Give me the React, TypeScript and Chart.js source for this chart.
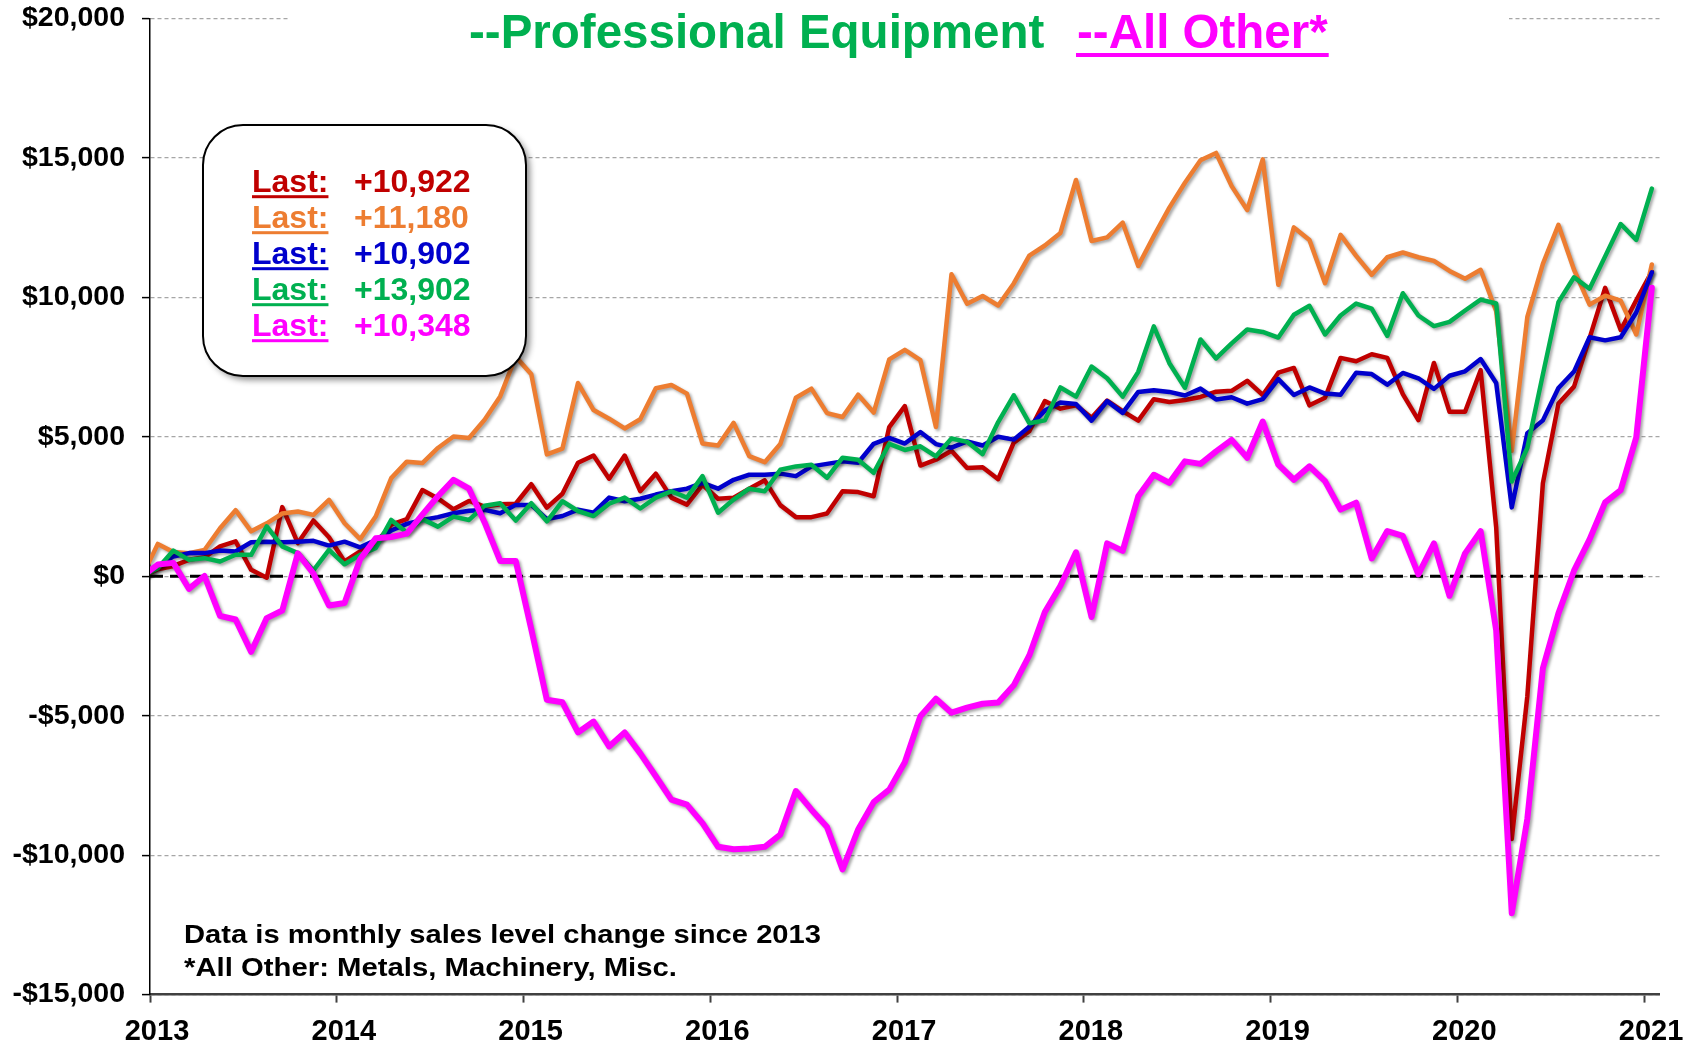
import React, { useEffect, useRef } from "react";
import { Chart, registerables } from "chart.js";

Chart.register(...registerables);

const FONT = "'Liberation Sans', Arial, Helvetica, sans-serif";

// X axis: one tick per January, from Jan 2013 to Jan 2021
const YEAR_LABELS = ["2013", "2014", "2015", "2016", "2017", "2018", "2019", "2020", "2021"];

// Y axis
const Y_MIN = -15000;
const Y_MAX = 20000;
const Y_STEP = 5000;

// Change is measured from the Dec 2012 level, which is zero for every series
const BASE_VALUE = 0;

// Monthly values, Jan 2013 .. Jan 2021 (97 months)
const RED_SERIES = [
  250, 370, 590, 680, 1070, 1250, 230, -50, 2480, 1190, 2000, 1400,
  530, 890, 1190, 1850, 2050, 3090, 2790, 2400, 2700, 2500, 2580, 2600,
  3300, 2460, 2960, 4070, 4330, 3500, 4330, 3050, 3680, 2820, 2570, 3280,
  2780, 2820, 3140, 3440, 2550, 2120, 2120, 2250, 3050, 3020, 2870, 5350,
  6100, 3970, 4180, 4500, 3880, 3910, 3480, 4790, 5200, 6280, 6010, 6130,
  5680, 6300, 5920, 5580, 6350, 6250, 6320, 6430, 6620, 6650, 7010, 6500,
  7300, 7470, 6130, 6400, 7830, 7710, 7960, 7830, 6530, 5600, 7650, 5900,
  5900, 7390, 1750, -9420, -4300, 3340, 6190, 6800, 8540, 10340, 8830, 9900,
  10922,
];

const ORANGE_SERIES = [
  1160, 870, 830, 940, 1720, 2370, 1610, 1900, 2250, 2320, 2200, 2740,
  1900, 1330, 2140, 3520, 4110, 4060, 4600, 5010, 4960, 5610, 6450, 7870,
  7240, 4370, 4580, 6930, 5960, 5650, 5300, 5630, 6740, 6860, 6550, 4760,
  4690, 5500, 4310, 4090, 4740, 6400, 6730, 5850, 5710, 6510, 5870, 7780,
  8120, 7750, 5350, 10830, 9770, 10050, 9710, 10500, 11500, 11860, 12310, 14210,
  12020, 12150, 12680, 11130, 12200, 13220, 14110, 14920, 15180, 13990, 13130, 14950,
  10450, 12510, 12060, 10510, 12240, 11490, 10810, 11440, 11610, 11440, 11310, 10950,
  10670, 10990, 9500, 4500, 9300, 11200, 12600, 10990, 9740, 10060, 9880, 8670,
  11180,
];

const BLUE_SERIES = [
  350, 710, 830, 830, 920, 890, 1220, 1240, 1220, 1240, 1270, 1100,
  1240, 1040, 1300, 1640, 1880, 2020, 2120, 2260, 2350, 2380, 2260, 2560,
  2560, 2050, 2160, 2390, 2280, 2820, 2690, 2780, 2930, 3050, 3140, 3350,
  3140, 3460, 3640, 3640, 3680, 3590, 3940, 4030, 4120, 4070, 4750, 4960,
  4760, 5170, 4740, 4610, 4835, 4690, 5000, 4900, 5360, 5940, 6230, 6180,
  5580, 6280, 5860, 6610, 6670, 6610, 6480, 6730, 6340, 6420, 6190, 6350,
  7070, 6500, 6770, 6550, 6510, 7300, 7250, 6870, 7290, 7100, 6720, 7190,
  7350, 7790, 6930, 2470, 5130, 5590, 6750, 7340, 8570, 8460, 8570, 9460,
  10902,
];

const PRO_EQUIPMENT = [
  290, 920, 590, 650, 530, 770, 770, 1790, 1070, 830, 210, 950,
  430, 770, 1010, 2020, 1570, 2050, 1780, 2140, 2020, 2530, 2620, 2000,
  2620, 1970, 2690, 2340, 2160, 2600, 2820, 2430, 2820, 3050, 2820, 3590,
  2280, 2750, 3140, 3050, 3820, 3940, 4000, 3530, 4250, 4180, 3710, 4750,
  4530, 4660, 4300, 4940, 4820, 4380, 5530, 6490, 5490, 5590, 6770, 6440,
  7520, 7100, 6440, 7330, 8960, 7640, 6760, 8490, 7810, 8350, 8850, 8760,
  8560, 9380, 9700, 8670, 9350, 9780, 9600, 8620, 10150, 9350, 8970, 9120,
  9530, 9920, 9780, 3400, 4600, 7240, 9830, 10720, 10310, 11470, 12630, 12060,
  13902,
];

const ALL_OTHER = [
  420, 480, -450, 10, -1420, -1550, -2710, -1500, -1230, 820, 100, -1050,
  -960, 610, 1360, 1410, 1530, 2210, 2870, 3460, 3140, 1930, 550, 550,
  -1900, -4430, -4520, -5600, -5210, -6100, -5600, -6350, -7170, -8010, -8190, -8850,
  -9700, -9790, -9760, -9700, -9260, -7700, -8370, -8990, -10510, -9080, -8100, -7650,
  -6670, -5020, -4390, -4890, -4710, -4570, -4530, -3910, -2840, -1280, -340, 860,
  -1460, 1180, 910, 2870, 3640, 3350, 4120, 4030, 4480, 4890, 4250, 5550,
  4000, 3460, 3940, 3410, 2390, 2640, 640, 1620, 1450, 70, 1180, -700,
  820, 1620, -1940, -12080, -8700, -3300, -1330, 200, 1320, 2650, 3090, 4980,
  10348,
];

const ZERO_LINE = [0, 0];

const LAST_LABELS = ["+10,922", "+11,180", "+10,902", "+13,902", "+10,348"];

const COLORS = {
  red: "#C00000",
  orange: "#ED7D31",
  blue: "#0000CC",
  green: "#00B050",
  magenta: "#FF00FF",
};
const LAST_COLORS = [COLORS.red, COLORS.orange, COLORS.blue, COLORS.green, COLORS.magenta];

const TITLE_LEFT = "--Professional Equipment";
const TITLE_RIGHT = "--All Other*";
const NOTE_LINES = ["Data is monthly sales level change since 2013", "*All Other: Metals, Machinery, Misc."];
const NOTE_WIDTHS = [637, 493];

// month index of the first January tick (ticks sit between month points)
const TICK_START = -0.5;
const MONTHS_PER_YEAR = 12;

function toPoints(values: number[]) {
  return [{ x: -1, y: BASE_VALUE }, ...values.map((v, i) => ({ x: i, y: v }))];
}

function roundRectPath(ctx: CanvasRenderingContext2D, x: number, y: number, w: number, h: number, r: number) {
  ctx.beginPath();
  ctx.moveTo(x + r, y);
  ctx.lineTo(x + w - r, y);
  ctx.arcTo(x + w, y, x + w, y + r, r);
  ctx.lineTo(x + w, y + h - r);
  ctx.arcTo(x + w, y + h, x + w - r, y + h, r);
  ctx.lineTo(x + r, y + h);
  ctx.arcTo(x, y + h, x, y + h - r, r);
  ctx.lineTo(x, y + r);
  ctx.arcTo(x, y, x + r, y, r);
  ctx.closePath();
}

const shadowPlugin = {
  id: "lineShadow",
  beforeDatasetDraw(chart: any, args: any) {
    const ds = chart.data.datasets[args.index];
    if (!ds.shadow) return;
    const ctx = chart.ctx;
    ctx.save();
    ctx.shadowColor = "rgba(0,0,0,0.35)";
    ctx.shadowBlur = 3;
    ctx.shadowOffsetX = 2;
    ctx.shadowOffsetY = 2;
  },
  afterDatasetDraw(chart: any, args: any) {
    const ds = chart.data.datasets[args.index];
    if (!ds.shadow) return;
    chart.ctx.restore();
  },
};

const overlayPlugin = {
  id: "overlay",
  afterDraw(chart: any) {
    const ctx: CanvasRenderingContext2D = chart.ctx;
    ctx.save();

    // Title band (hides the top gridline behind the title)
    ctx.fillStyle = "#ffffff";
    ctx.fillRect(290, 6, 1219, 56);
    ctx.font = `bold 47.5px ${FONT}`;
    ctx.textBaseline = "alphabetic";
    ctx.textAlign = "left";
    ctx.fillStyle = COLORS.green;
    ctx.fillText(TITLE_LEFT, 469, 48);
    ctx.fillStyle = COLORS.magenta;
    ctx.fillText(TITLE_RIGHT, 1077, 48);
    const tw = ctx.measureText(TITLE_RIGHT).width;
    ctx.fillRect(1076, 53, tw + 2, 4);

    // "Last" box
    ctx.save();
    ctx.shadowColor = "rgba(0,0,0,0.45)";
    ctx.shadowBlur = 6;
    ctx.shadowOffsetX = 4;
    ctx.shadowOffsetY = 4;
    roundRectPath(ctx, 203, 125, 323, 251, 40);
    ctx.fillStyle = "#ffffff";
    ctx.fill();
    ctx.restore();
    roundRectPath(ctx, 203, 125, 323, 251, 40);
    ctx.lineWidth = 2;
    ctx.strokeStyle = "#000000";
    ctx.stroke();

    ctx.font = `bold 32px ${FONT}`;
    LAST_LABELS.forEach((label, k) => {
      const y = 191.7 + 36 * k;
      ctx.fillStyle = LAST_COLORS[k];
      ctx.fillText("Last:", 252, y);
      const lw = ctx.measureText("Last:").width;
      ctx.fillRect(252, y + 3.5, lw, 3);
      ctx.fillText(label, 354, y);
    });

    // Notes (wide-set lettering, stretched to the reference width)
    ctx.font = `bold 26px ${FONT}`;
    ctx.fillStyle = "#000000";
    const noteY = [943, 976];
    NOTE_LINES.forEach((line, k) => {
      const w = ctx.measureText(line).width;
      ctx.save();
      ctx.translate(184, noteY[k]);
      ctx.scale(NOTE_WIDTHS[k] / w, 1);
      ctx.fillText(line, 0, 0);
      ctx.restore();
    });

    ctx.restore();
  },
};

function lineDataset(label: string, values: number[], color: string, width: number, order: number) {
  return {
    label,
    data: toPoints(values),
    borderColor: color,
    backgroundColor: color,
    borderWidth: width,
    pointRadius: 0,
    pointHoverRadius: 0,
    tension: 0,
    fill: false,
    borderJoinStyle: "round" as const,
    borderCapStyle: "round" as const,
    order,
    shadow: true,
  };
}

export default function App() {
  const canvasRef = useRef<HTMLCanvasElement | null>(null);

  useEffect(() => {
    const canvas = canvasRef.current;
    if (!canvas) return;
    const lastTick = TICK_START + MONTHS_PER_YEAR * (YEAR_LABELS.length - 1);

    const chart = new Chart(canvas, {
      type: "line",
      data: {
        datasets: [
          {
            label: "zero",
            data: [
              { x: TICK_START, y: ZERO_LINE[0] },
              { x: lastTick, y: ZERO_LINE[1] },
            ],
            borderColor: "#000000",
            borderWidth: 3,
            borderDash: [13, 7],
            pointRadius: 0,
            fill: false,
            order: 10,
          } as any,
          lineDataset("Red", RED_SERIES, COLORS.red, 4.5, 4),
          lineDataset("Orange", ORANGE_SERIES, COLORS.orange, 4.5, 3),
          lineDataset("Blue", BLUE_SERIES, COLORS.blue, 4.5, 2),
          lineDataset("Professional Equipment", PRO_EQUIPMENT, COLORS.green, 4.5, 1),
          lineDataset("All Other", ALL_OTHER, COLORS.magenta, 6, 0),
        ],
      },
      options: {
        responsive: false,
        animation: false,
        devicePixelRatio: 1,
        layout: { padding: { top: 18.5, right: 42.4, left: 0, bottom: 0 } },
        plugins: {
          legend: { display: false },
          tooltip: { enabled: false },
          title: { display: false },
        },
        events: [],
        scales: {
          x: {
            type: "linear",
            min: TICK_START,
            max: lastTick + 1,
            afterBuildTicks(scale: any) {
              scale.ticks = YEAR_LABELS.map((_, k) => ({ value: TICK_START + MONTHS_PER_YEAR * k }));
            },
            afterFit(scale: any) {
              scale.height = 50.4;
              scale.paddingLeft = 0;
              scale.paddingRight = 0;
            },
            ticks: {
              autoSkip: false,
              maxRotation: 0,
              minRotation: 0,
              padding: 12,
              labelOffset: 7,
              color: "#000000",
              font: { family: FONT, size: 29, weight: "bold" },
              callback: (_v: any, index: number) => YEAR_LABELS[index],
            },
            grid: {
              drawOnChartArea: false,
              drawTicks: true,
              tickLength: 8,
              tickColor: "#404040",
              tickWidth: 2,
            },
            border: { display: true, color: "#404040", width: 2.5 },
          },
          y: {
            type: "linear",
            min: Y_MIN,
            max: Y_MAX,
            afterFit(scale: any) {
              scale.width = 150;
              scale.paddingTop = 0;
              scale.paddingBottom = 0;
            },
            ticks: {
              stepSize: Y_STEP,
              padding: 17,
              color: "#000000",
              font: { family: FONT, size: 28.5, weight: "bold" },
              callback: (v: any) => {
                const n = Number(v);
                const s = Math.abs(n).toLocaleString("en-US");
                return n < 0 ? `-$${s}` : `$${s}`;
              },
            },
            grid: {
              color: "#a6a6a6",
              lineWidth: 1.2,
              drawTicks: true,
              tickLength: 8,
              tickColor: "#000000",
              tickWidth: 1.5,
            },
            border: { display: true, color: "#000000", width: 1.5, dash: [4, 3] },
          },
        },
      } as any,
      plugins: [shadowPlugin, overlayPlugin],
    });

    return () => chart.destroy();
  }, []);

  return (
    <canvas
      ref={canvasRef}
      width={1702}
      height={1045}
      style={{ position: "absolute", left: 0, top: 0, width: 1702, height: 1045 }}
    />
  );
}
